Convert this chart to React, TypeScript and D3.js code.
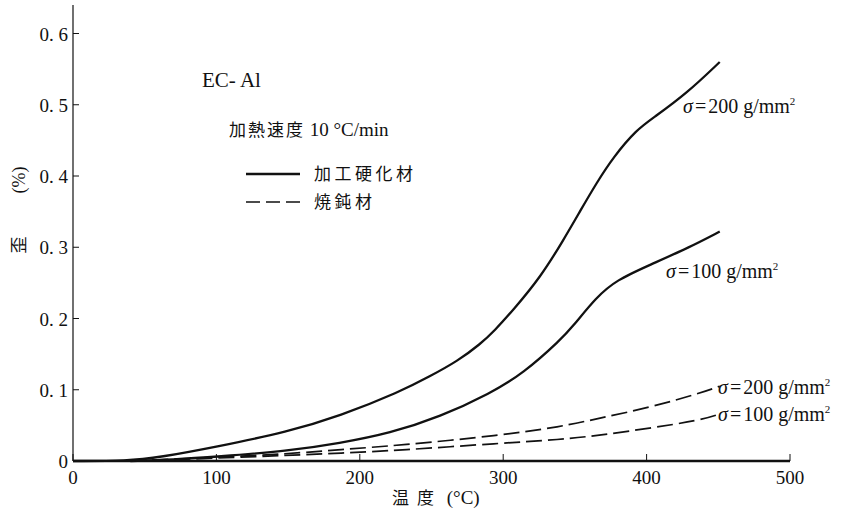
import * as d3 from 'd3';

// temperature (°C) vs strain (%)
const hard200T = [0, 38, 60, 100, 150, 186, 228, 249, 268, 284, 294, 307, 326, 342, 354, 365, 377, 393, 405, 428, 451];
const hard200V = [0, 0, 0.005, 0.02, 0.041, 0.063, 0.097, 0.119, 0.14, 0.164, 0.183, 0.212, 0.258, 0.31, 0.352, 0.39, 0.427, 0.465, 0.482, 0.516, 0.56];
const hard100T = [40, 70, 100, 150, 186, 221, 256, 291, 314, 340, 349, 365, 379, 402, 430, 451];
const hard100V = [0, 0.002, 0.006, 0.014, 0.025, 0.039, 0.062, 0.095, 0.123, 0.17, 0.19, 0.23, 0.254, 0.275, 0.3, 0.322];
const ann200T = [40, 100, 150, 186, 228, 298, 340, 367, 402, 437, 451];
const ann200V = [0, 0.005, 0.01, 0.016, 0.022, 0.036, 0.048, 0.06, 0.075, 0.095, 0.105];
const ann100T = [40, 100, 150, 186, 228, 298, 340, 367, 402, 437, 451];
const ann100V = [0, 0.004, 0.008, 0.011, 0.015, 0.025, 0.03, 0.036, 0.046, 0.057, 0.066];

const xTicks = [0, 100, 200, 300, 400, 500];
const yTicks = [0, 0.1, 0.2, 0.3, 0.4, 0.5, 0.6];

const SERIF = '"Liberation Serif", "DejaVu Serif", serif';
const CJK = '"Noto Sans CJK JP", sans-serif';

const W = 844;
const H = 519;

const x = d3.scaleLinear().domain([0, 500]).range([73, 790]);
const y = d3.scaleLinear().domain([0, 0.64]).range([461, 5]);

const line = d3
  .line<[number, number]>()
  .x((d) => x(d[0]))
  .y((d) => y(d[1]))
  .curve(d3.curveBasis);

const zip = (t: number[], v: number[]) => t.map((tt, i) => [tt, v[i]] as [number, number]);

const series = [
  { pts: zip(hard200T, hard200V), dash: undefined, w: 2.3 },
  { pts: zip(hard100T, hard100V), dash: undefined, w: 2.3 },
  { pts: zip(ann200T, ann200V), dash: '16 6', w: 1.7 },
  { pts: zip(ann100T, ann100V), dash: '16 6', w: 1.7 },
];

const fmtY = (v: number) => (v === 0 ? '0' : v.toFixed(1).replace('.', '. '));

function Sigma({ px, py, val }: { px: number; py: number; val: string }) {
  return (
    <text x={px} y={py} fontFamily={SERIF} fontSize={20} fill="#111">
      <tspan fontStyle="italic">σ</tspan>
      <tspan dx={2}>=</tspan>
      <tspan dx={2}>{`${val} g/mm`}</tspan>
      <tspan fontSize={11} dy={-8}>2</tspan>
    </text>
  );
}

export default function App() {
  return (
    <svg
      width={W}
      height={H}
      viewBox={`0 0 ${W} ${H}`}
      style={{ position: 'absolute', left: 0, top: 0, background: '#fff' }}
    >
      <rect width={W} height={H} fill="#fff" />

      {/* axes */}
      <line x1={x(0)} x2={x(0)} y1={y(0)} y2={y(0.64)} stroke="#111" strokeWidth={1.2} />
      <line x1={x(0)} x2={x(500)} y1={y(0)} y2={y(0)} stroke="#111" strokeWidth={2.4} />

      {xTicks.map((t) => (
        <g key={`xt${t}`}>
          <line x1={x(t)} x2={x(t)} y1={y(0)} y2={y(0) - 7} stroke="#111" strokeWidth={1} />
          <text x={x(t)} y={y(0) + 23} textAnchor="middle" fontFamily={SERIF} fontSize={19} fill="#111">
            {t}
          </text>
        </g>
      ))}
      {yTicks.map((t) => (
        <g key={`yt${t}`}>
          <line x1={x(0)} x2={x(0) + 6} y1={y(t)} y2={y(t)} stroke="#111" strokeWidth={1} />
          <text x={x(0) - 5} y={y(t) + 7} textAnchor="end" fontFamily={SERIF} fontSize={19} fill="#111">
            {fmtY(t)}
          </text>
        </g>
      ))}

      {/* axis titles */}
      <text x={392} y={504} fill="#111">
        <tspan fontFamily={CJK} fontSize={17} letterSpacing={8}>温度</tspan>
        <tspan fontFamily={SERIF} fontSize={19}>{' (°C)'}</tspan>
      </text>
      <text transform="translate(25,245) rotate(-90)" textAnchor="middle" fontFamily={CJK} fontSize={17} fill="#111">
        歪
      </text>
      <text transform="translate(25,180) rotate(-90)" textAnchor="middle" fontFamily={SERIF} fontSize={18} fill="#111">
        (%)
      </text>

      {/* curves */}
      {series.map((s, i) => (
        <path
          key={i}
          d={line(s.pts) ?? ''}
          fill="none"
          stroke="#111"
          strokeWidth={s.w}
          strokeDasharray={s.dash}
        />
      ))}

      {/* annotations */}
      <text x={202} y={87} fontFamily={SERIF} fontSize={21} fill="#111">EC- Al</text>
      <text x={229} y={136} fill="#111">
        <tspan fontFamily={CJK} fontSize={17} letterSpacing={2}>加熱速度</tspan>
        <tspan fontFamily={SERIF} fontSize={19}>{' 10 °C/min'}</tspan>
      </text>
      <line x1={246} x2={300} y1={174} y2={174} stroke="#111" strokeWidth={2.4} />
      <text x={314} y={180} fontFamily={CJK} fontSize={17} letterSpacing={3.5} fill="#111">加工硬化材</text>
      <line x1={246} x2={300} y1={202} y2={202} stroke="#111" strokeWidth={1.6} strokeDasharray="14 6" />
      <text x={314} y={208} fontFamily={CJK} fontSize={17} letterSpacing={3.5} fill="#111">焼鈍材</text>

      <Sigma px={683} py={113} val="200" />
      <Sigma px={666} py={278} val="100" />
      <Sigma px={718} py={394} val="200" />
      <Sigma px={718} py={421} val="100" />
    </svg>
  );
}
